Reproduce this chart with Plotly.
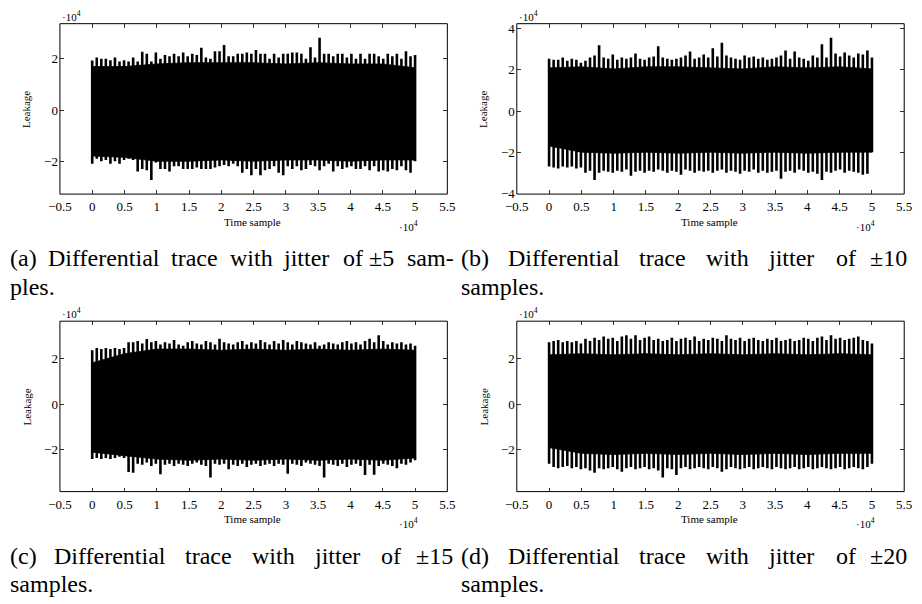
import numpy as np
import plotly.graph_objects as go

# ---------------------------------------------------------------------------
# Data: differential traces (values in units of 1e4), 50 000 time samples.
# Each trace is described by its burst peaks (one per clock period) and by
# the level of the dense core of the signal, sampled every 5 000 samples.
# ---------------------------------------------------------------------------
N_SAMPLES = 50000
SCALE = 1e4

core_knots = [0, 5000, 10000, 15000, 20000, 25000, 30000, 35000, 40000, 45000, 50000]

# (a) jitter of +-5 samples
a_peak_hi = [1.94, 2.05, 2.0, 2.0, 1.95, 2.05, 1.9, 1.95, 1.9, 2.05,
             1.9, 2.28, 2.2, 1.9, 2.25, 2.0, 2.15, 2.1, 2.2, 2.1,
             2.25, 2.1, 2.2, 2.15, 2.43, 2.05, 2.0, 2.3, 2.3, 2.54,
             2.1, 2.1, 2.2, 2.2, 2.25, 2.2, 2.35, 2.2, 2.2, 2.0,
             2.2, 2.05, 2.2, 2.2, 2.25, 2.25, 2.2, 2.0, 2.45, 2.05,
             2.82, 2.2, 2.2, 2.1, 2.2, 2.2, 2.05, 2.2, 2.0, 2.2,
             2.0, 2.2, 2.2, 2.1, 2.0, 2.2, 2.1, 2.2, 2.0, 2.3,
             2.1, 2.15]
a_peak_lo = [-2.1, -1.9, -2.0, -1.95, -2.1, -2.0, -2.1, -1.95, -1.9, -1.95,
             -2.4, -2.3, -2.35, -2.73, -2.05, -2.3, -2.3, -2.4, -2.2, -2.2,
             -2.3, -2.3, -2.3, -2.25, -2.3, -2.3, -2.3, -2.25, -2.2, -2.15,
             -2.2, -2.1, -2.2, -2.45, -2.3, -2.55, -2.3, -2.55, -2.35, -2.3,
             -2.2, -2.45, -2.55, -2.2, -2.3, -2.2, -2.35, -2.3, -2.15, -2.2,
             -2.35, -2.2, -2.1, -2.4, -2.2, -2.3, -2.25, -2.2, -2.3, -2.3,
             -2.2, -2.35, -2.2, -2.4, -2.35, -2.4, -2.3, -2.35, -2.2, -2.35,
             -2.45, -2.0]
a_core_hi = [1.7, 1.7, 1.8, 1.85, 1.85, 1.85, 1.8, 1.85, 1.8, 1.8, 1.65]
a_core_lo = [-1.8, -1.85, -2.0, -2.0, -1.95, -2.0, -1.95, -1.95, -2.0, -1.95, -1.95]

# (b) jitter of +-10 samples
b_peak_hi = [2.55, 2.5, 2.5, 2.6, 2.45, 2.55, 2.5, 2.35, 2.45, 2.6,
             2.7, 3.2, 2.6, 2.55, 2.75, 2.5, 2.6, 2.55, 2.6, 2.8,
             2.55, 2.5, 2.6, 2.65, 3.15, 2.6, 2.55, 2.5, 2.55, 2.6,
             2.7, 2.9, 2.55, 2.6, 2.75, 2.6, 3.05, 2.65, 3.32, 2.7,
             2.6, 2.55, 2.5, 2.7, 2.6, 2.65, 2.55, 2.6, 2.5, 2.55,
             2.6, 2.7, 2.95, 2.55, 2.9, 2.6, 2.55, 2.45, 2.7, 2.6,
             3.25, 2.6, 3.56, 2.8, 2.65, 2.85, 2.7, 2.6, 2.8, 2.75,
             2.95, 2.6]
b_peak_lo = [-2.7, -2.75, -2.8, -2.7, -2.75, -2.7, -2.8, -2.75, -3.0, -2.9,
             -3.35, -3.0, -2.9, -2.95, -3.0, -2.9, -2.95, -2.85, -3.15, -2.95,
             -2.9, -3.0, -2.9, -2.95, -2.85, -2.9, -3.0, -2.9, -2.95, -3.1,
             -2.85, -2.9, -3.0, -2.9, -2.95, -2.9, -3.0, -2.9, -2.85, -3.0,
             -2.9, -2.95, -3.05, -2.9, -2.95, -2.85, -3.0, -2.9, -3.0, -2.95,
             -2.9, -3.3, -2.95, -2.9, -3.0, -2.85, -2.9, -3.0, -2.95, -3.05,
             -3.35, -2.95, -3.0, -2.9, -2.85, -3.0, -2.9, -2.95, -3.0, -3.1,
             -3.05, -2.0]
b_core_hi = [2.1, 2.15, 2.05, 2.15, 2.15, 2.1, 2.05, 2.15, 2.1, 2.15, 2.05]
b_core_lo = [-1.7, -2.0, -2.05, -2.0, -2.05, -2.0, -2.05, -2.0, -2.05, -2.0, -2.0]

# (c) jitter of +-15 samples
c_peak_hi = [2.35, 2.45, 2.4, 2.45, 2.4, 2.45, 2.4, 2.45, 2.7, 2.7,
             2.75, 2.65, 2.84, 2.7, 2.75, 2.6, 2.7, 2.65, 2.8, 2.6,
             2.55, 2.7, 2.75, 2.65, 2.6, 2.75, 2.7, 2.6, 2.85, 2.7,
             2.65, 2.6, 2.7, 2.75, 2.6, 2.7, 2.65, 2.8, 2.7, 2.6,
             2.75, 2.65, 2.8, 2.7, 2.6, 2.75, 2.7, 2.65, 2.6, 2.7,
             2.55, 2.6, 2.7, 2.65, 2.6, 2.7, 2.75, 2.65, 2.7, 2.6,
             2.75, 2.85, 2.7, 3.0, 2.75, 2.6, 2.7, 2.65, 2.7, 2.6,
             2.65, 2.55]
c_peak_lo = [-2.4, -2.35, -2.4, -2.35, -2.4, -2.35, -2.3, -2.35, -2.97, -3.0,
             -2.6, -2.65, -2.55, -2.7, -2.6, -3.06, -2.65, -2.6, -2.7, -2.6,
             -2.65, -2.7, -2.6, -2.55, -2.65, -2.7, -3.2, -2.6, -2.65, -2.6,
             -2.85, -2.65, -2.7, -2.6, -2.75, -2.65, -2.6, -2.7, -2.65, -2.6,
             -2.7, -2.6, -2.65, -3.04, -2.6, -2.65, -2.7, -2.55, -2.6, -2.65,
             -2.7, -3.2, -2.6, -2.65, -2.7, -2.6, -2.75, -2.65, -2.6, -2.7,
             -3.1, -2.65, -3.08, -2.7, -2.6, -2.65, -2.7, -2.8, -2.6, -2.65,
             -2.55, -2.45]
c_core_hi = [1.8, 2.2, 2.4, 2.4, 2.35, 2.4, 2.35, 2.4, 2.35, 2.4, 2.35]
c_core_lo = [-2.1, -2.25, -2.4, -2.45, -2.4, -2.45, -2.4, -2.45, -2.4, -2.45, -2.35]

# (d) jitter of +-20 samples
d_peak_hi = [2.7, 2.75, 2.8, 2.7, 2.75, 2.7, 2.75, 2.65, 2.85, 2.75,
             2.9, 2.8, 2.95, 2.85, 2.9, 2.75, 2.95, 3.0, 2.85, 3.0,
             2.8, 2.9, 2.95, 2.8, 2.85, 2.75, 2.8, 2.9, 2.75, 2.85,
             2.9, 2.8, 2.95, 2.75, 2.85, 2.8, 2.9, 2.85, 2.75, 3.0,
             2.85, 2.8, 2.9, 2.75, 2.85, 2.9, 2.8, 2.75, 2.85, 2.8,
             2.9, 2.75, 2.8, 2.85, 2.75, 2.8, 2.9, 2.85, 2.75, 2.9,
             2.95, 2.8, 3.0, 2.85, 2.9, 2.8, 2.85, 2.9, 2.95, 2.8,
             2.75, 2.65]
d_peak_lo = [-2.6, -2.75, -2.8, -2.75, -2.7, -2.8, -2.75, -2.85, -2.8, -2.9,
             -3.0, -2.8, -2.85, -2.8, -2.75, -2.85, -2.95, -2.8, -2.75, -2.85,
             -2.8, -2.75, -2.85, -2.8, -2.9, -3.2, -2.8, -2.85, -3.1, -2.8,
             -2.75, -2.85, -2.8, -2.75, -2.8, -2.85, -2.75, -2.8, -2.95, -2.85,
             -2.75, -2.8, -2.85, -2.8, -2.75, -2.85, -2.8, -2.75, -2.8, -2.85,
             -2.75, -2.8, -2.85, -2.8, -2.75, -2.85, -2.8, -2.75, -2.85, -2.8,
             -2.75, -2.8, -2.85, -2.8, -2.75, -2.85, -2.8, -2.75, -2.8, -2.85,
             -2.75, -2.6]
d_core_hi = [2.15, 2.2, 2.15, 2.2, 2.15, 2.2, 2.15, 2.2, 2.15, 2.2, 2.15]
d_core_lo = [-1.9, -2.15, -2.2, -2.15, -2.2, -2.15, -2.2, -2.15, -2.2, -2.15, -2.15]

x_tick_values = [-0.5, 0, 0.5, 1, 1.5, 2, 2.5, 3, 3.5, 4, 4.5, 5, 5.5]
y_tick_values = [-4, -2, 0, 2, 4]

captions = {
    "a": [["(a)", "Differential", "trace", "with", "jitter", "of", "±5", "sam-"], ["ples."]],
    "b": [["(b)", "Differential", "trace", "with", "jitter", "of", "±10"], ["samples."]],
    "c": [["(c)", "Differential", "trace", "with", "jitter", "of", "±15"], ["samples."]],
    "d": [["(d)", "Differential", "trace", "with", "jitter", "of", "±20"], ["samples."]],
}

traces = {
    "a": (a_peak_hi, a_peak_lo, a_core_hi, a_core_lo),
    "b": (b_peak_hi, b_peak_lo, b_core_hi, b_core_lo),
    "c": (c_peak_hi, c_peak_lo, c_core_hi, c_core_lo),
    "d": (d_peak_hi, d_peak_lo, d_core_hi, d_core_lo),
}

# ---------------------------------------------------------------------------
# Layout (pixels of a 922 x 604 canvas)
# ---------------------------------------------------------------------------
W, H = 922, 604
FONT = "Liberation Serif"
INK = "#000000"

frames = {  # left, right, top, bottom of each axis box
    "a": (49, 445, 22, 195),
    "b": (516, 912, 22, 195),
    "c": (49, 445, 324, 497),
    "d": (516, 912, 324, 497),
}
word_x = {
    "a": [0, 38.7, 164.4, 224.4, 279.1, 339.9, 367.2, 405.9],
    "b": [461, 509.3, 643.3, 711.7, 774.7, 843.8, 879.4],
    "c": [0, 45.4, 179.2, 247.4, 310.2, 379.1, 414.5],
    "d": [461, 509.3, 643.3, 711.7, 774.7, 843.8, 879.4],
}
TEXT_INSET = 3  # inner padding plotly adds around annotation text
caption_baseline = {"a": 268, "b": 268, "c": 570, "d": 570}
LINE_SKIP = 29
CAPTION_SIZE = 24
SPIKE_WIDTH = 2.6


def px(x):
    return x / W


def py(y):
    return 1 - y / H


def fmt(v):
    return ("%g" % v).replace("-", "\u2212")


fig = go.Figure()
annotations = []
shapes = []

for i, key in enumerate(["a", "b", "c", "d"], start=1):
    hi, lo, core_hi, core_lo = traces[key]
    xa = "x" if i == 1 else "x%d" % i
    ya = "y" if i == 1 else "y%d" % i

    # dense core of the trace
    core_x = list(core_knots) + list(core_knots[::-1])
    core_y = [v * SCALE for v in core_hi] + [v * SCALE for v in core_lo[::-1]]
    fig.add_trace(go.Scatter(
        x=core_x, y=core_y, mode="lines", fill="toself",
        fillcolor="black", line=dict(color="black", width=0.8),
        xaxis=xa, yaxis=ya, showlegend=False, hoverinfo="skip"))

    # burst peaks, one vertical stroke per clock period
    spike_x = np.linspace(0, N_SAMPLES, len(hi))
    sx, sy = [], []
    for x0, h, l in zip(spike_x, hi, lo):
        sx += [x0, x0, None]
        sy += [l * SCALE, h * SCALE, None]
    fig.add_trace(go.Scatter(
        x=sx, y=sy, mode="lines", line=dict(color="black", width=SPIKE_WIDTH),
        xaxis=xa, yaxis=ya, showlegend=False, hoverinfo="skip"))

    # axis limits: 10 % margin around the data
    all_vals = hi + lo + core_hi + core_lo
    vmin, vmax = min(all_vals), max(all_vals)
    pad = 0.1 * (vmax - vmin)
    yr = [(vmin - pad) * SCALE, (vmax + pad) * SCALE]
    xr = [-0.1 * N_SAMPLES, 1.1 * N_SAMPLES]

    left, right, top, bottom = frames[key]
    axis_common = dict(
        showline=False, mirror="ticks",
        ticks="inside", ticklen=4, tickwidth=1, tickcolor="#333333",
        showgrid=False, zeroline=False,
        tickfont=dict(family=FONT, size=13, color=INK),
    )
    fig.update_layout(**{
        ("xaxis" if i == 1 else "xaxis%d" % i): dict(
            domain=[px(left), px(right)], range=xr, anchor=ya,
            tickvals=[v * SCALE for v in x_tick_values],
            ticktext=[fmt(v) for v in x_tick_values],
            ticklabelstandoff=3, **axis_common),
        ("yaxis" if i == 1 else "yaxis%d" % i): dict(
            domain=[py(bottom), py(top)], range=yr, anchor=xa,
            tickvals=[v * SCALE for v in y_tick_values],
            ticktext=[fmt(v) for v in y_tick_values],
            ticklabelstandoff=1, **axis_common),
    })

    # axis box
    shapes.append(dict(type="rect", xref="%s domain" % xa, yref="%s domain" % ya,
                       x0=0, x1=1, y0=0, y1=1, line=dict(color=INK, width=1),
                       fillcolor="rgba(0,0,0,0)", layer="above"))

    small = dict(family=FONT, size=11, color=INK)
    # exponent markers
    annotations.append(dict(x=px(left + 12), y=py(top - 8), xref="paper", yref="paper",
                            text="·10<sup>4</sup>", showarrow=False, font=small,
                            xanchor="center", yanchor="middle"))
    annotations.append(dict(x=px(right - 40), y=py(bottom + 32), xref="paper", yref="paper",
                            text="·10<sup>4</sup>", showarrow=False, font=small,
                            xanchor="center", yanchor="middle"))
    # axis titles
    annotations.append(dict(x=px((left + right) / 2 - 1.5), y=py(bottom + 28),
                            xref="paper", yref="paper", text="Time sample",
                            showarrow=False, font=small, xanchor="center", yanchor="middle"))
    annotations.append(dict(x=px(left - 34), y=py((top + bottom) / 2 + 0.5), xref="paper",
                            yref="paper", text="Leakage", textangle=-90, showarrow=False,
                            font=small, xanchor="center", yanchor="middle"))

    # caption, laid out word by word on a justified line
    line1, line2 = captions[key]
    cap_font = dict(family=FONT, size=CAPTION_SIZE, color="black")
    base = caption_baseline[key]
    for word, x0 in zip(line1, word_x[key]):
        annotations.append(dict(x=px(x0 - TEXT_INSET), y=py(base - 8), xref="paper",
                                yref="paper", text=word, showarrow=False, font=cap_font,
                                xanchor="left", yanchor="middle", borderpad=0))
    annotations.append(dict(x=px(word_x[key][0] - TEXT_INSET), y=py(base + LINE_SKIP - 8),
                            xref="paper", yref="paper", text=line2[0], showarrow=False,
                            font=cap_font, xanchor="left", yanchor="middle", borderpad=0))

fig.update_layout(
    width=W, height=H, margin=dict(l=0, r=0, t=0, b=0),
    paper_bgcolor="white", plot_bgcolor="white",
    annotations=annotations, shapes=shapes, showlegend=False,
)

fig.write_html("out.html")
